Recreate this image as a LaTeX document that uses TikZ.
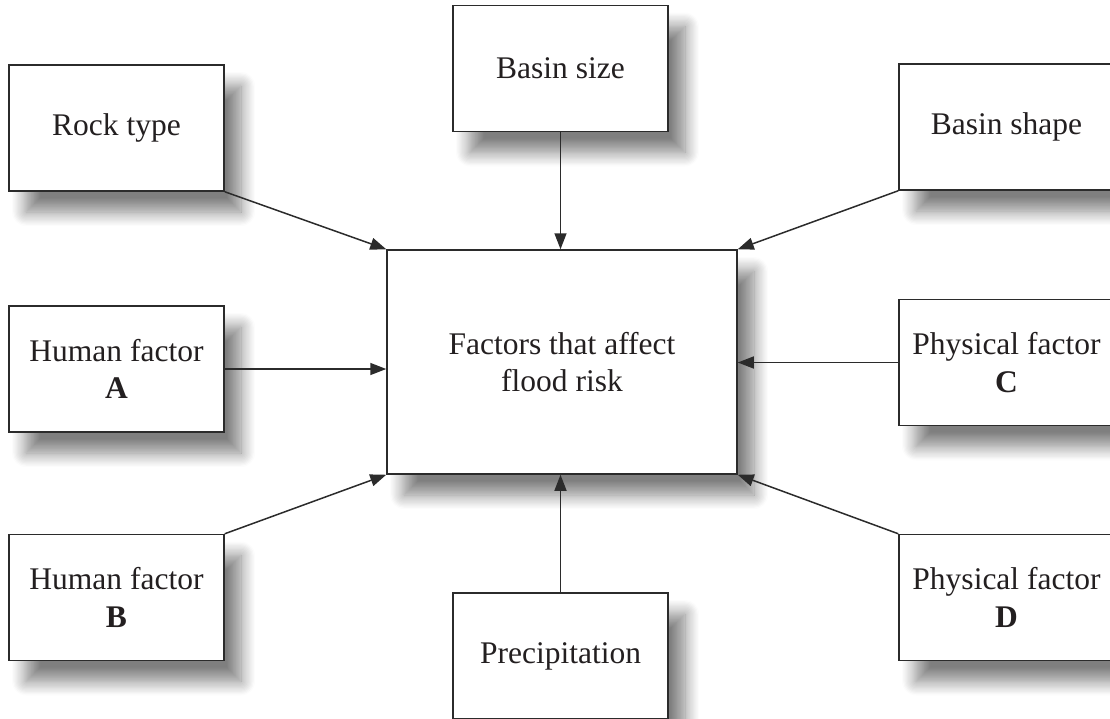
\documentclass[tikz,border=0pt]{standalone}
\usepackage{fontspec}
\setmainfont{Liberation Serif}
\usetikzlibrary{arrows.meta,shadows.blur}
\definecolor{linecol}{HTML}{2B2B2B}
\definecolor{txtcol}{HTML}{231F20}
\begin{document}
\begin{tikzpicture}[x=1pt,y=-1pt,
  box/.style={draw=linecol, line width=1.5pt, fill=white,
    minimum width=215pt, minimum height=126pt, inner sep=0pt,
    align=center, text=txtcol, font=\fontsize{31.5}{37.8}\selectfont,
    blur shadow={shadow xshift=17pt, shadow yshift=-21pt,
      shadow blur radius=14pt, shadow blur steps=12, shadow opacity=50}},
  bigbox/.style={box, minimum width=350pt, minimum height=224pt},
  arr/.style={draw=linecol, line width=1.5pt, -{Triangle[length=16pt,width=12pt]}}]
\useasboundingbox (0,0) rectangle (1110,718);
\clip (0,0) rectangle (1110,718);
\node[bigbox] (center) at (562,362) {Factors that affect\\flood risk};
\node[box] (rock) at (116.5,128) {Rock type};
\node[box] (size) at (560.5,68.5) {Basin size};
\node[box] (shape) at (1006.5,127) {Basin shape};
\node[box] (humA) at (116.5,369) {Human factor\\\textbf{A}};
\node[box] (physC) at (1006.5,362.5) {Physical factor\\\textbf{C}};
\node[box] (humB) at (116.5,597.5) {Human factor\\\textbf{B}};
\node[box] (physD) at (1006.5,597.5) {Physical factor\\\textbf{D}};
\node[box] (precip) at (560.5,656) {Precipitation};
\draw[arr] (rock.south east) -- (center.north west);
\draw[arr] (size.south) -- (size.south |- center.north);
\draw[arr] (shape.south west) -- (center.north east);
\draw[arr] (humA.east) -- (humA.east -| center.west);
\draw[arr] (physC.west) -- (physC.west -| center.east);
\draw[arr] (humB.north east) -- (center.south west);
\draw[arr] (physD.north west) -- (center.south east);
\draw[arr] (precip.north) -- (precip.north |- center.south);
\end{tikzpicture}
\end{document}
